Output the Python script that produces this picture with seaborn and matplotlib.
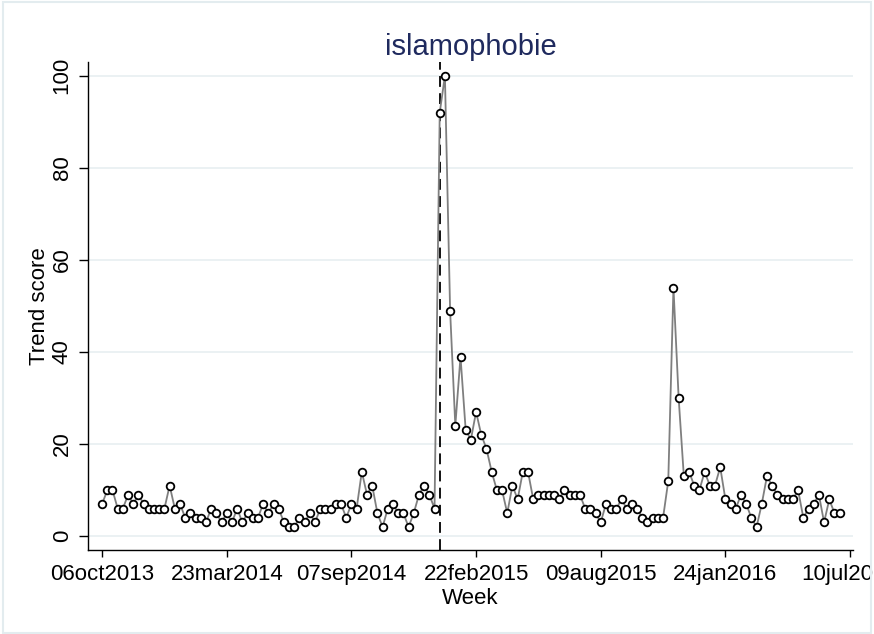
import matplotlib
matplotlib.use('Agg')
from matplotlib import pyplot as plt
from matplotlib.patches import Rectangle
import numpy as np
import pandas as pd
import seaborn as sns

# Weekly trend score for the search term, one value per week from 06oct2013
first_week = '2013-10-06'
trend_score = [
    7, 10, 10, 6, 6, 9, 7, 9, 7, 6, 6, 6, 6, 11, 6, 7, 4, 5, 4, 4,
    3, 6, 5, 3, 5, 3, 6, 3, 5, 4, 4, 7, 5, 7, 6, 3, 2, 2, 4, 3,
    5, 3, 6, 6, 6, 7, 7, 4, 7, 6, 14, 9, 11, 5, 2, 6, 7, 5, 5, 2,
    5, 9, 11, 9, 6, 92, 100, 49, 24, 39, 23, 21, 27, 22, 19, 14, 10, 10, 5, 11,
    8, 14, 14, 8, 9, 9, 9, 9, 8, 10, 9, 9, 9, 6, 6, 5, 3, 7, 6, 6,
    8, 6, 7, 6, 4, 3, 4, 4, 4, 12, 54, 30, 13, 14, 11, 10, 14, 11, 11, 15,
    8, 7, 6, 9, 7, 4, 2, 7, 13, 11, 9, 8, 8, 8, 10, 4, 6, 7, 9, 3,
    8, 5, 5,
]
tick_dates = ['2013-10-06', '2014-03-23', '2014-09-07', '2015-02-22',
              '2015-08-09', '2016-01-24', '2016-07-10']
y_ticks = [0, 20, 40, 60, 80, 100]
event_date = '2015-01-04'  # dashed marker line

weeks = pd.date_range(first_week, periods=len(trend_score), freq='7D')
data = pd.DataFrame({'week': weeks, 'score': trend_score})

sns.set_style('ticks')
plt.rcParams['font.family'] = ['Liberation Sans', 'DejaVu Sans']
plt.rcParams['text.color'] = 'black'
plt.rcParams['axes.labelcolor'] = 'black'
plt.rcParams['xtick.labelcolor'] = 'black'
plt.rcParams['ytick.labelcolor'] = 'black'

fig = plt.figure(figsize=(8.74, 6.34), dpi=100)
ax = fig.add_axes([0.1007, 0.1325, 0.8753, 0.7697])

ax.set_yticks(y_ticks)
ax.grid(axis='y', color='#e7eff1', linewidth=1.2)
ax.set_axisbelow(True)

ax.axvline(pd.Timestamp(event_date), color='black', linestyle=(0, (6, 3.5)),
           linewidth=1.3, zorder=2.5)

sns.lineplot(data=data, x='week', y='score', ax=ax, color='#7f7f7f',
             linewidth=1.3, marker='o', markersize=5.5,
             markerfacecolor='white', markeredgecolor='black',
             markeredgewidth=1.3, zorder=3)

ax.set_xlim(pd.Timestamp('2013-09-17'), pd.Timestamp('2016-07-14'))
ax.set_ylim(-3, 103)

ticks = pd.to_datetime(tick_dates)
ax.set_xticks(ticks)
ax.set_xticklabels([d.strftime('%d%b%Y').lower() for d in ticks])

ax.tick_params(axis='x', length=5, width=1, pad=5, labelsize=16,
               color='black', labelcolor='black')
ax.tick_params(axis='y', length=6.5, width=1, pad=4.5, labelsize=16,
               labelrotation=90, color='black', labelcolor='black')
for lab in ax.get_yticklabels():
    lab.set_va('center')

sns.despine(ax=ax)
for side in ['left', 'bottom']:
    ax.spines[side].set_color('black')
    ax.spines[side].set_linewidth(1)

ax.set_xlabel('Week', fontsize=16, labelpad=2.5, color='black')
ax.set_ylabel('Trend score', fontsize=16, labelpad=1, color='black')
ax.set_title('islamophobie', fontsize=21, color='#1f2a5e', pad=5)

fig.add_artist(Rectangle((0.003, 0.001), 0.994, 0.996, transform=fig.transFigure,
                         fill=False, edgecolor='#e3ecef', linewidth=1.5))

fig.savefig('out.png', dpi=100)
